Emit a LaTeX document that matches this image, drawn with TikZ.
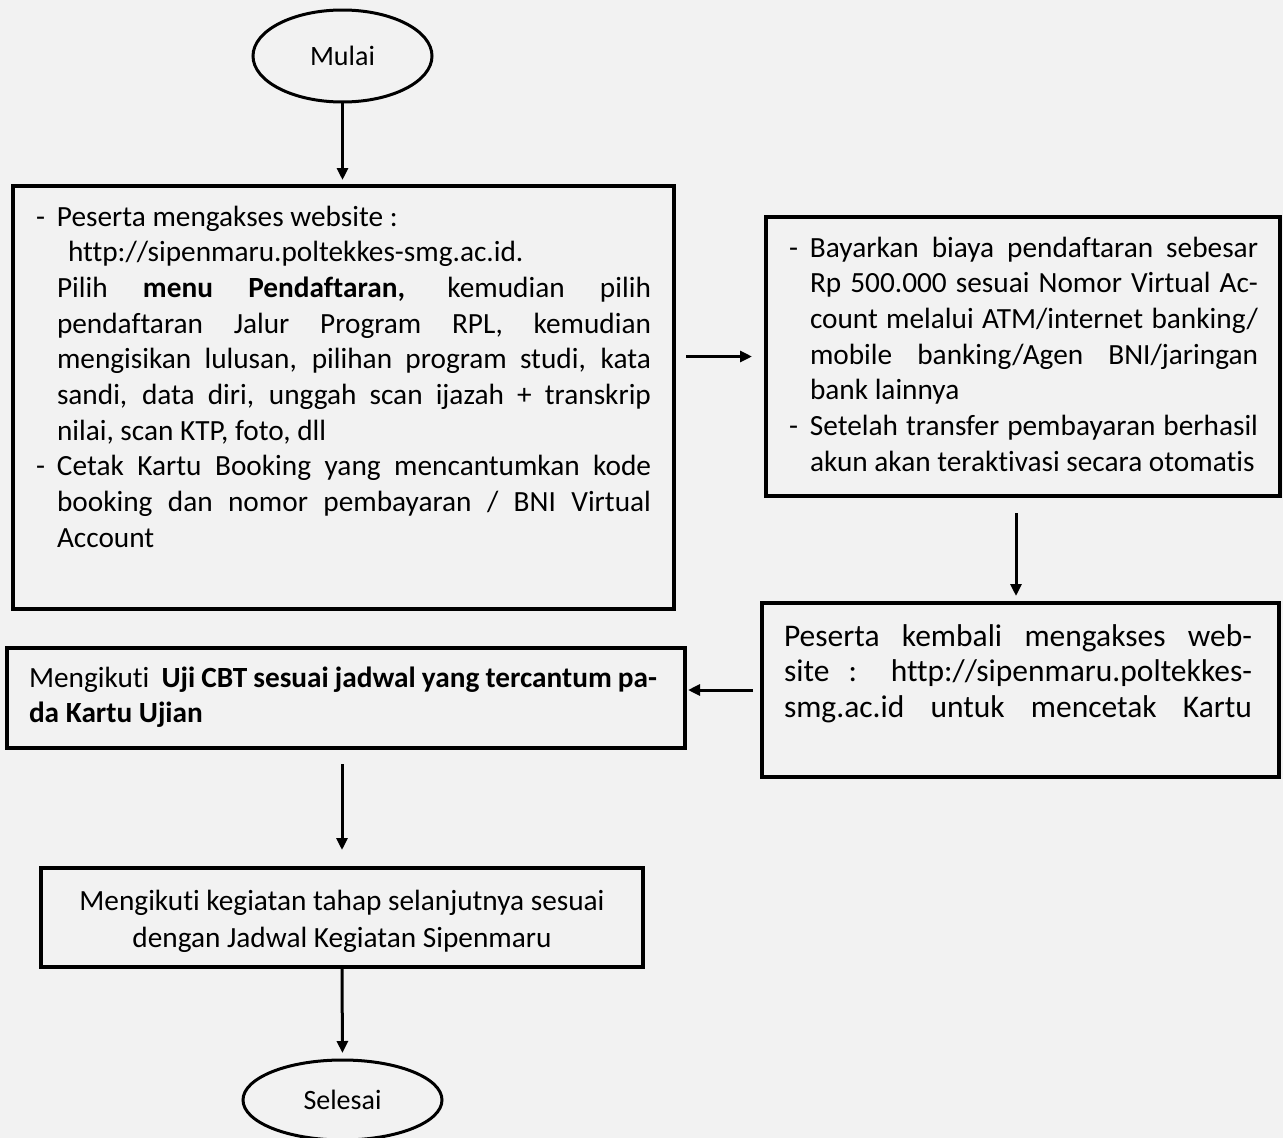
\documentclass[tikz,border=0pt]{standalone}
\usepackage{fontspec}
\setmainfont{Carlito}[Ligatures=NoCommon]
\usetikzlibrary{arrows.meta,shapes.geometric}
\definecolor{bgc}{HTML}{F2F2F2}
\newcommand\bxfont{\fontsize{29.3pt}{35.7pt}\selectfont\hyphenpenalty=10000 \exhyphenpenalty=10000 \tolerance=9999 \parindent=0pt \parskip=0pt\relax}
\newcommand\dsh{\noindent\llap{\makebox[21pt][l]{-}}}
\tikzset{
  boxst/.style={draw=black, line width=3.5pt, rectangle, inner sep=0pt, outer sep=0pt},
  ovalst/.style={draw=black, line width=3pt, ellipse, inner sep=0pt, outer sep=0pt, font=\fontsize{28pt}{34pt}\selectfont},
  txtst/.style={inner sep=0pt, outer sep=0pt, anchor=base west},
  arr/.style={line width=3pt, -{Triangle[length=12pt,width=11pt]}}
}
\begin{document}
\begin{tikzpicture}[x=1pt,y=-1pt]
\useasboundingbox (0,0) rectangle (1283,1138);
\fill[bgc] (0,0) rectangle (1283,1138);

\node[ovalst, minimum width=179pt, minimum height=92pt] (mulai) at (342.5,56) {Mulai};

\node[boxst, minimum width=661pt, minimum height=423pt] (b1) at (343.5,397.5) {};
\node[txtst] (t1) at (57,226) {\parbox[t]{594pt}{\bxfont
\dsh Peserta mengakses website :\newline
\hspace*{11pt}http://sipenmaru.poltekkes-smg.ac.id.\newline
Pilih \textbf{menu Pendaftaran,} kemudian pilih\linebreak
pendaftaran Jalur Program RPL, kemudian\linebreak
mengisikan lulusan, pilihan program studi, kata\linebreak
sandi, data diri, unggah scan ijazah + transkrip\linebreak
nilai, scan KTP, foto, dll\par
\dsh Cetak Kartu Booking yang mencantumkan kode\linebreak
booking dan nomor pembayaran / BNI Virtual\linebreak
Account\par}};

\node[boxst, minimum width=514pt, minimum height=279pt] (b2) at (1023,356.5) {};
\node[txtst] (t2) at (810,257) {\parbox[t]{448pt}{\bxfont
\dsh Bayarkan biaya pendaftaran sebesar\linebreak
Rp 500.000 sesuai Nomor Virtual Ac-\linebreak
count melalui ATM/internet banking/\linebreak
mobile banking/Agen BNI/jaringan\linebreak
bank lainnya\par
\dsh Setelah transfer pembayaran berhasil\linebreak
akun akan teraktivasi secara otomatis\par}};

\node[boxst, minimum width=517pt, minimum height=174pt] (b3) at (1020.5,690) {};
\node[txtst] (t3) at (784,646) {\parbox[t]{468pt}{\bxfont\fontsize{31.5pt}{35.5pt}\selectfont\parfillskip=0pt
Peserta kembali mengakses web-\linebreak
site : http://sipenmaru.poltekkes-\linebreak
smg.ac.id untuk mencetak Kartu\par}};

\node[boxst, minimum width=678pt, minimum height=100pt] (b4) at (346,698) {};
\node[txtst] (t4) at (29,687) {\parbox[t]{628pt}{\bxfont
Mengikuti\ \ \textbf{Uji CBT sesuai jadwal yang tercantum pa-}\linebreak
\textbf{da Kartu Ujian}\par}};

\node[boxst, minimum width=602pt, minimum height=99pt] (b5) at (342,917.5) {};
\node[inner sep=0pt, outer sep=0pt, anchor=base] (t5) at (342,910) {\parbox[t]{600pt}{\bxfont\baselineskip=37pt\centering
Mengikuti kegiatan tahap selanjutnya sesuai\\dengan Jadwal Kegiatan Sipenmaru\par}};

\node[ovalst, minimum width=199pt, minimum height=80pt] (selesai) at (342.5,1100) {Selesai};

\draw[arr, shorten >=6pt] (mulai.south) -- (mulai.south |- b1.north);
\draw[arr, shorten <=12pt, shorten >=14pt] (b1.east |- b2.west) -- (b2.west);
\draw[arr, shorten <=17pt, shorten >=7pt] ([xshift=-7pt]b2.south) -- ([xshift=-7pt]b2.south |- b3.north);
\draw[arr, shorten <=9pt, shorten >=3pt] (b3.west) -- (b3.west -| b4.east);
\draw[arr, shorten <=16pt, shorten >=18pt] (b4.south -| b5.north) -- (b5.north);
\draw[arr, shorten >=7pt] (b5.south) -- (selesai.north);
\end{tikzpicture}
\end{document}
